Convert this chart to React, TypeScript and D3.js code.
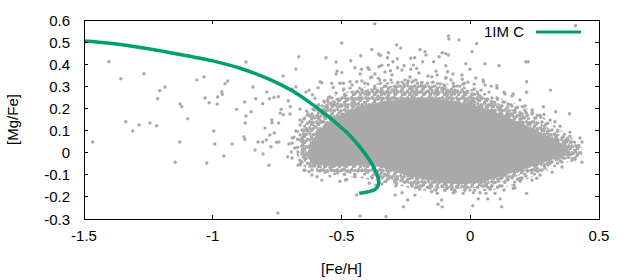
import * as d3 from 'd3'

const metalPoorStars: [number, number][] = [
  [-1.466, 0.048], [-1.403, 0.411], [-1.357, 0.334], [-1.338, 0.140], [-1.311, 0.098], [-1.286, 0.125],
  [-1.267, 0.357], [-1.244, 0.134], [-1.218, 0.122], [-1.214, 0.244], [-1.206, 0.28], [-1.185, 0.297],
  [-1.146, -0.043], [-1.128, 0.048], [-1.127, 0.22], [-1.12, 0.208], [-1.097, 0.153], [-1.062, 0.329],
  [-1.034, 0.343], [-1.03, 0.247], [-1.023, -0.047], [-1.014, 0.226], [-0.996, 0.098], [-0.992, 0.039],
  [-0.983, 0.22], [-0.981, 0.252], [-0.965, 0.276], [-0.963, 0.264], [-0.957, -0.015], [-0.952, 0.312],
  [-0.942, 0.324], [-0.925, 0.039], [-0.907, 0.196], [-0.879, 0.071], [-0.876, 0.229], [-0.875, 0.06],
  [-0.874, 0.134], [-0.871, 0.41], [-0.871, 0.166], [-0.851, 0.185], [-0.844, 0.297], [-0.836, 0.012],
  [-0.833, 0.244], [-0.824, 0.048], [-0.806, 0.221], [-0.806, 0.048], [-0.805, -0.006], [-0.797, 0.111],
  [-0.792, 0.057], [-0.79, 0.274], [-0.782, -0.057], [-0.78, 0.244], [-0.778, 0.08], [-0.774, 0.027],
  [-0.771, 0.148], [-0.77, 0.135], [-0.762, 0.25], [-0.761, 0.089], [-0.752, 0.047], [-0.747, -0.273],
  [-0.745, 0.253], [-0.744, 0.134], [-0.743, 0.048], [-0.738, 0.179], [-0.734, 0.196], [-0.727, 0.347],
  [-0.726, 0.172], [-0.709, -0.019], [-0.707, 0.235], [-0.704, 0.039], [-0.7, 0.175], [-0.699, 0.208],
  [-0.695, 0.003], [-0.692, -0.024], [-0.691, 0.288], [-0.691, 0.066], [-0.681, 0.021], [-0.677, 0.378],
  [-0.677, 0.298], [-0.669, 0.003], [-0.666, 0.434], [-0.661, 0.197], [-0.661, 0.148], [-0.661, 0.08],
  [-0.661, 0.057], [-0.661, -0.056], [-0.658, -0.047], [-0.652, 0.013], [-0.65, 0.034], [-0.642, -0.019],
  [-0.642, -0.079], [-0.638, 0.274], [-0.635, 0.188], [-0.627, -0.086], [-0.626, 0.282], [-0.622, 0.166],
  [-0.615, -0.079], [-0.613, 0.262], [-0.603, 0.246], [-0.591, 0.294], [-0.589, 0.217], [-0.577, 0.316],
  [-0.571, 0.193], [-0.56, 0.429], [-0.551, 0.25], [-0.532, 0.295], [-0.521, 0.41], [-0.521, 0.356],
  [-0.517, 0.369], [-0.506, 0.314], [-0.499, 0.496], [-0.493, 0.283],
]

const upperStars: [number, number][] = [
  [-0.583, 0.321], [-0.583, 0.148], [-0.564, 0.17], [-0.552, 0.229], [-0.545, 0.193], [-0.538, 0.314],
  [-0.525, 0.215], [-0.506, 0.238], [-0.499, 0.362], [-0.493, 0.314], [-0.486, 0.261], [-0.467, 0.321],
  [-0.467, 0.292], [-0.464, 0.416], [-0.459, 0.238], [-0.448, 0.384], [-0.444, 0.274], [-0.441, 0.321],
  [-0.436, 0.22], [-0.428, 0.356], [-0.425, 0.438], [-0.422, 0.377], [-0.42, 0.283], [-0.409, 0.314],
  [-0.398, 0.384], [-0.397, 0.261], [-0.393, 0.377], [-0.387, 0.339], [-0.382, 0.467], [-0.371, 0.583],
  [-0.37, 0.356], [-0.37, 0.292], [-0.357, 0.336], [-0.356, 0.446], [-0.354, 0.389], [-0.35, 0.314],
  [-0.349, 0.44], [-0.344, 0.395], [-0.343, 0.274], [-0.332, 0.327], [-0.321, 0.429], [-0.319, 0.256],
  [-0.318, 0.452], [-0.318, 0.396], [-0.31, 0.371], [-0.308, 0.329], [-0.3, 0.411], [-0.292, 0.283],
  [-0.286, 0.487], [-0.283, 0.425], [-0.282, 0.384], [-0.273, 0.301], [-0.27, 0.473], [-0.257, 0.393],
  [-0.253, 0.329], [-0.253, 0.265], [-0.241, 0.324], [-0.231, 0.427], [-0.231, 0.377], [-0.226, 0.292],
  [-0.221, 0.396], [-0.221, 0.324], [-0.216, 0.429], [-0.208, 0.381], [-0.203, 0.274], [-0.195, 0.466],
  [-0.189, 0.314], [-0.185, 0.411], [-0.176, 0.457], [-0.176, 0.301], [-0.172, 0.442], [-0.156, 0.261],
  [-0.149, 0.343], [-0.142, 0.411], [-0.133, 0.283], [-0.129, 0.351], [-0.121, 0.434], [-0.11, 0.292],
  [-0.109, 0.452], [-0.107, 0.28], [-0.102, 0.306], [-0.095, 0.448], [-0.095, 0.393], [-0.095, 0.339],
  [-0.088, 0.366], [-0.086, 0.265], [-0.085, 0.528], [-0.085, 0.442], [-0.083, 0.514], [-0.081, 0.276],
  [-0.066, 0.314], [-0.066, 0.298], [-0.059, 0.283], [-0.044, 0.51], [-0.04, 0.301], [-0.031, 0.332],
  [-0.029, 0.31], [-0.027, 0.257], [-0.023, 0.314], [-0.017, 0.402], [-0.017, 0.274], [-0.008, 0.226],
  [-0.001, 0.377], [-0.001, 0.252], [0.007, 0.457], [0.008, 0.228], [0.012, 0.243], [0.015, 0.288],
  [0.025, 0.493], [0.029, 0.265], [0.03, 0.238], [0.051, 0.321], [0.056, 0.226], [0.057, 0.402],
  [0.058, 0.306], [0.081, 0.23], [0.083, 0.217], [0.103, 0.303], [0.112, 0.393], [0.131, 0.273],
]

const metalRichStars: [number, number][] = [
  [0.096, 0.155], [0.116, 0.202], [0.142, 0.166], [0.157, 0.217], [0.167, 0.265], [0.174, 0.185],
  [0.193, 0.182], [0.204, 0.208], [0.216, 0.411], [0.216, 0.184], [0.219, 0.321], [0.219, 0.273],
  [0.219, 0.108], [0.225, 0.411], [0.232, 0.135], [0.241, 0.182], [0.245, 0.102], [0.271, 0.11],
  [0.274, 0.16], [0.284, 0.208], [0.286, 0.173], [0.29, 0.024], [0.303, 0.084], [0.303, 0.072],
  [0.312, 0.283], [0.323, 0.0], [0.329, 0.14], [0.329, 0.08], [0.332, 0.185], [0.336, 0.034],
  [0.342, -0.026], [0.349, 0.024], [0.361, 0.072], [0.368, 0.039], [0.375, 0.049], [0.377, 0.065],
  [0.381, -0.003], [0.385, 0.176], [0.387, 0.019], [0.394, 0.049], [0.4, -0.003], [0.407, -0.03],
  [0.409, 0.574], [0.42, 0.033], [0.31, -0.03], [0.284, -0.033], [0.31, -0.048], [0.336, -0.021],
  [0.357, -0.021], [0.29, -0.07], [0.26, -0.071], [0.251, -0.079], [0.239, -0.091], [0.258, -0.116],
]

const lowerStars: [number, number][] = [
  [-0.603, -0.052], [-0.595, -0.109], [-0.583, -0.064], [-0.564, -0.088], [-0.545, -0.067], [-0.525, -0.082],
  [-0.519, -0.079], [-0.514, -0.092], [-0.493, -0.076], [-0.489, -0.098], [-0.485, -0.124], [-0.48, -0.121],
  [-0.467, -0.088], [-0.448, -0.109], [-0.441, -0.191], [-0.428, -0.286], [-0.409, -0.079], [-0.392, -0.138],
  [-0.35, -0.101], [-0.343, -0.142], [-0.327, -0.29], [-0.292, -0.192], [-0.292, -0.124], [-0.286, -0.139],
  [-0.265, -0.181], [-0.26, -0.245], [-0.253, -0.133], [-0.243, -0.214], [-0.227, -0.142], [-0.215, -0.192],
  [-0.212, -0.157], [-0.195, -0.151], [-0.156, -0.16], [-0.15, -0.177], [-0.128, -0.184], [-0.125, -0.233],
  [-0.111, -0.214], [-0.109, -0.245], [-0.098, -0.169], [-0.091, -0.162], [-0.066, -0.181], [-0.058, -0.177],
  [-0.053, -0.154], [-0.027, -0.184], [-0.02, -0.169], [0.01, -0.24], [0.012, -0.181], [0.031, -0.209],
  [0.038, -0.181], [0.051, -0.151], [0.061, -0.184], [0.068, -0.209], [0.077, -0.16], [0.083, -0.151],
  [0.096, -0.184], [0.116, -0.209], [0.122, -0.245], [0.135, -0.133], [0.167, -0.162], [0.174, -0.159],
  [0.193, -0.115], [0.196, -0.124], [0.219, -0.184],
]

// crowded fringe round the centre of the cloud
const fringeStars: [number, number][] = [
  [-0.331, 0.365], [-0.265, 0.374], [-0.199, 0.36], [-0.133, 0.369], [-0.067, 0.356],
  [-0.382, 0.342], [-0.304, 0.351], [-0.234, 0.342], [-0.164, 0.347], [-0.094, 0.338], [-0.032, 0.351], [0.022, 0.338],
  [-0.421, 0.324], [-0.351, 0.329], [-0.281, 0.319], [-0.211, 0.329], [-0.145, 0.319], [-0.075, 0.329],
  [-0.009, 0.319], [0.05, 0.329],
  [-0.459, 0.306], [-0.397, 0.31], [-0.328, 0.301], [-0.258, 0.31], [-0.192, 0.301], [-0.117, 0.31],
  [-0.051, 0.301], [0.015, 0.31], [0.081, 0.301],
  [-0.491, 0.288], [-0.429, 0.292], [-0.362, 0.283], [-0.292, 0.292], [-0.226, 0.283], [-0.156, 0.292],
  [-0.09, 0.283], [-0.024, 0.292], [0.042, 0.283], [0.104, 0.292],
  [-0.521, 0.27], [-0.459, 0.274], [-0.393, 0.265], [-0.324, 0.274], [-0.258, 0.265], [-0.192, 0.274],
  [-0.125, 0.265], [-0.059, 0.274], [0.007, 0.265], [0.073, 0.274], [0.135, 0.265],
  [-0.545, 0.252], [-0.487, 0.256], [-0.425, 0.247], [-0.359, 0.256], [-0.293, 0.247], [-0.226, 0.256],
  [-0.156, 0.247], [-0.09, 0.256], [-0.024, 0.247], [0.038, 0.256], [0.104, 0.247], [0.162, 0.256],
  [-0.568, 0.233], [-0.514, 0.238], [-0.452, 0.229], [-0.001, 0.233], [0.061, 0.238], [0.127, 0.229], [0.193, 0.238],
  [-0.591, 0.215], [-0.537, 0.22], [-0.483, 0.211], [0.077, 0.215], [0.147, 0.22], [0.213, 0.211],
  [-0.611, 0.197], [-0.557, 0.202], [0.116, 0.197], [0.178, 0.202], [0.24, 0.193],
  [-0.63, 0.175], [-0.576, 0.179], [0.155, 0.175], [0.217, 0.179], [0.271, 0.17],
  [-0.646, 0.152], [-0.591, 0.157], [0.193, 0.152], [0.255, 0.157], [0.31, 0.148],
  [-0.661, 0.125], [-0.615, 0.129], [0.232, 0.125], [0.294, 0.129], [0.349, 0.12],
  [-0.677, 0.098], [-0.63, 0.102], [0.286, 0.098], [0.34, 0.102], [0.387, 0.093],
  [-0.685, 0.07], [-0.646, 0.075], [0.333, 0.07], [0.387, 0.075], [0.426, 0.066],
  [-0.692, 0.043], [-0.653, 0.048], [0.434, 0.048],
  [-0.661, -0.034], [0.349, -0.038], [0.395, -0.034], [0.434, -0.043],
  [-0.669, -0.056], [-0.622, -0.061], [0.302, -0.056], [0.356, -0.065],
  [-0.646, -0.079], [-0.584, -0.083], [0.271, -0.079], [0.318, -0.088],
  [-0.615, -0.101], [-0.545, -0.106], [-0.448, -0.101], [-0.382, -0.11], [-0.32, -0.101], [0.216, -0.106], [0.271, -0.101],
  [-0.576, -0.124], [-0.506, -0.129], [-0.328, -0.129], [-0.265, -0.124], [-0.203, -0.133], [0.147, -0.124],
  [0.193, -0.129], [0.24, -0.124],
  [-0.366, -0.147], [-0.289, -0.151], [-0.227, -0.147], [-0.164, -0.156], [-0.094, -0.147], [-0.016, -0.156],
  [0.061, -0.147], [0.115, -0.151], [0.17, -0.147],
  [-0.196, -0.165], [-0.133, -0.169], [-0.071, -0.165], [-0.001, -0.169], [0.077, -0.165], [0.131, -0.169],
]

// outline of the speckled zone where stars crowd together
const crowdedZone: [number, number][] = [
  [-0.677, 0.012], [-0.669, 0.111], [-0.642, 0.17], [-0.591, 0.22], [-0.525, 0.261], [-0.448, 0.283],
  [-0.37, 0.31], [-0.273, 0.324], [-0.176, 0.324], [-0.079, 0.31], [0.018, 0.283], [0.115, 0.247],
  [0.193, 0.215], [0.271, 0.17], [0.341, 0.111], [0.395, 0.066], [0.434, 0.021], [0.427, -0.024],
  [0.368, -0.047], [0.302, -0.079], [0.232, -0.115], [0.162, -0.147], [0.084, -0.17], [-0.001, -0.178],
  [-0.098, -0.178], [-0.195, -0.169], [-0.273, -0.151], [-0.351, -0.133], [-0.429, -0.115], [-0.506, -0.106],
  [-0.591, -0.088], [-0.653, -0.056],
]

// outline of the heavily speckled band just outside the solid centre
const packedZone: [number, number][] = [
  [-0.661, 0.012], [-0.642, 0.125], [-0.603, 0.184], [-0.545, 0.229], [-0.467, 0.265], [-0.37, 0.292],
  [-0.273, 0.306], [-0.176, 0.306], [-0.079, 0.292], [0.018, 0.265], [0.115, 0.22], [0.193, 0.179],
  [0.271, 0.134], [0.341, 0.084], [0.407, 0.043], [0.434, 0.012], [0.418, -0.02], [0.349, -0.033],
  [0.29, -0.056], [0.224, -0.088], [0.154, -0.119], [0.077, -0.147], [-0.001, -0.16], [-0.098, -0.16],
  [-0.195, -0.151], [-0.273, -0.133], [-0.351, -0.115], [-0.429, -0.088], [-0.506, -0.088], [-0.591, -0.079],
  [-0.642, -0.043],
]

// dense centre of the cloud, where the dots merge into one grey patch
const denseCore: [number, number][] = [
  [-0.63, 0.003], [-0.591, 0.093], [-0.537, 0.148], [-0.467, 0.193], [-0.389, 0.22], [-0.292, 0.238],
  [-0.195, 0.247], [-0.098, 0.238], [-0.02, 0.224], [0.057, 0.202], [0.135, 0.166], [0.213, 0.125],
  [0.29, 0.08], [0.329, 0.057], [0.379, 0.021], [0.371, -0.011], [0.318, -0.029], [0.29, -0.043],
  [0.232, -0.065], [0.174, -0.088], [0.108, -0.11], [0.038, -0.133], [-0.04, -0.142], [-0.137, -0.129],
  [-0.234, -0.106], [-0.312, -0.079], [-0.389, -0.056], [-0.486, -0.061], [-0.576, -0.056], [-0.623, -0.033],
]

// model track "1IM C"
const modelFeH = [-1.5, -1.4, -1.3, -1.2, -1.1, -1.0, -0.9, -0.8, -0.74, -0.674, -0.61, -0.545, -0.48,
  -0.428, -0.389, -0.37, -0.36, -0.355, -0.36, -0.372, -0.396, -0.431]
const modelMgFe = [0.505, 0.495, 0.479, 0.46, 0.438, 0.415, 0.384, 0.342, 0.31, 0.268, 0.216, 0.157, 0.092,
  0.025, -0.037, -0.078, -0.105, -0.132, -0.155, -0.168, -0.177, -0.184]

const xTicks = [-1.5, -1, -0.5, 0, 0.5]
const yTicks = [-0.3, -0.2, -0.1, 0, 0.1, 0.2, 0.3, 0.4, 0.5, 0.6]
const legendLabel = '1IM C'

const width = 630
const height = 280
const left = 84
const right = 599
const top = 20
const bottom = 219
const grey = '#a9a9a9'
const green = '#009e73'
const font = '"Liberation Sans", Arial, sans-serif'

export default function App() {
  const x = d3.scaleLinear().domain([-1.5, 0.5]).range([left, right])
  const y = d3.scaleLinear().domain([-0.3, 0.6]).range([bottom, top])

  const stars = [...metalPoorStars, ...upperStars, ...metalRichStars, ...lowerStars, ...fringeStars]
  const track = modelFeH.map((f, i) => [f, modelMgFe[i]] as [number, number])

  const blob = d3
    .line<[number, number]>()
    .x((d) => x(d[0]))
    .y((d) => y(d[1]))
    .curve(d3.curveCatmullRomClosed)
  const trackLine = d3
    .line<[number, number]>()
    .x((d) => x(d[0]))
    .y((d) => y(d[1]))
    .curve(d3.curveCatmullRom)

  const tl = 4

  return (
    <svg width={width} height={height} style={{ position: 'absolute', left: 0, top: 0, background: '#fff' }}>
      <defs>
        <pattern id="speckle" width={10} height={8} patternUnits="userSpaceOnUse">
          <circle cx={2} cy={2} r={1.7} fill={grey} />
          <circle cx={7.5} cy={3.2} r={1.7} fill={grey} />
          <circle cx={4.6} cy={6.1} r={1.7} fill={grey} />
        </pattern>
        <pattern id="packed" width={7} height={6} patternUnits="userSpaceOnUse">
          <circle cx={1.8} cy={1.8} r={1.7} fill={grey} />
          <circle cx={5.3} cy={2.6} r={1.7} fill={grey} />
          <circle cx={3.4} cy={4.7} r={1.7} fill={grey} />
        </pattern>
      </defs>
      <rect width={width} height={height} fill="#fff" />
      <path d={blob(crowdedZone) ?? ''} fill="url(#speckle)" />
      <path d={blob(packedZone) ?? ''} fill="url(#packed)" />
      <path d={blob(denseCore) ?? ''} fill={grey} />
      {stars.map((d, i) => (
        <circle key={i} cx={x(d[0])} cy={y(d[1])} r={1.7} fill={grey} />
      ))}
      <path d={trackLine(track) ?? ''} fill="none" stroke={green} strokeWidth={3.5} />

      <g stroke="#000" strokeWidth={1} shapeRendering="crispEdges">
        {xTicks.map((t) => (
          <g key={'x' + t}>
            <line x1={x(t)} x2={x(t)} y1={bottom} y2={bottom - tl} />
            <line x1={x(t)} x2={x(t)} y1={top} y2={top + tl} />
          </g>
        ))}
        {yTicks.map((t) => (
          <g key={'y' + t}>
            <line x1={left} x2={left + tl} y1={y(t)} y2={y(t)} />
            <line x1={right} x2={right - tl} y1={y(t)} y2={y(t)} />
          </g>
        ))}
        <rect x={left} y={top} width={right - left} height={bottom - top} fill="none" />
      </g>

      <g fontFamily={font} fontSize={15} fill="#000">
        {xTicks.map((t) => (
          <text key={'xl' + t} x={x(t)} y={bottom + 22} textAnchor="middle">
            {t}
          </text>
        ))}
        {yTicks.map((t) => (
          <text key={'yl' + t} x={left - 14} y={y(t) + 5.5} textAnchor="end">
            {t}
          </text>
        ))}
        <text x={(left + right) / 2} y={274} textAnchor="middle">
          [Fe/H]
        </text>
        <text transform={`translate(18,${(top + bottom) / 2}) rotate(-90)`} textAnchor="middle">
          [Mg/Fe]
        </text>
        <text x={524} y={37} textAnchor="end">
          {legendLabel}
        </text>
      </g>
      <line x1={536} x2={581} y1={32} y2={32} stroke={green} strokeWidth={3} />
    </svg>
  )
}
